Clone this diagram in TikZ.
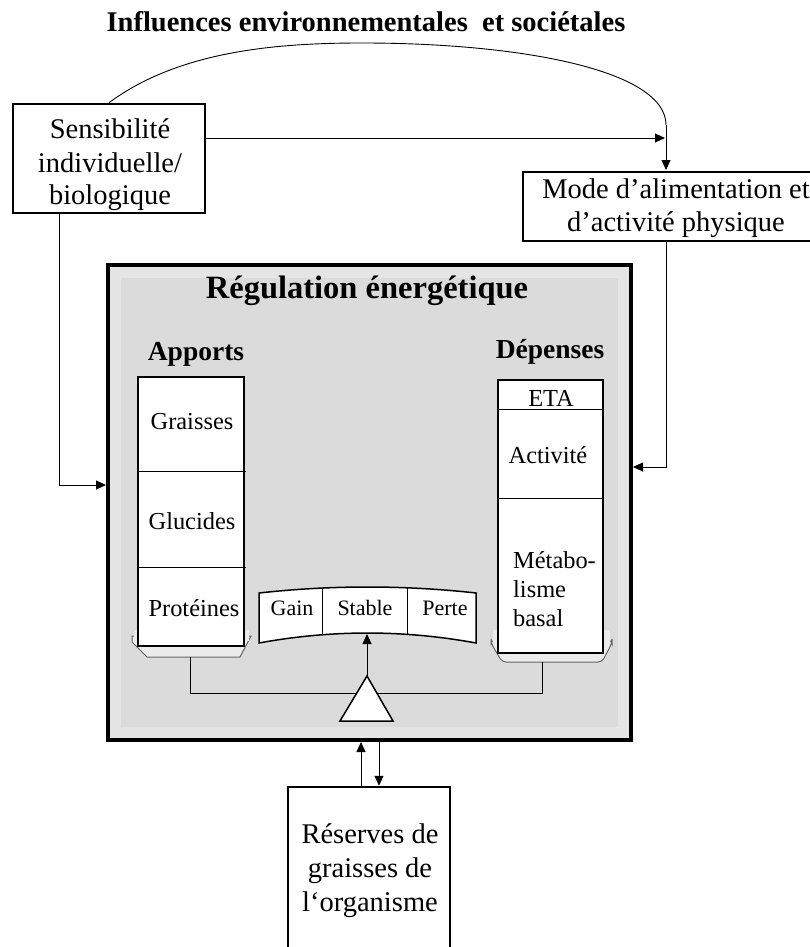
\documentclass[tikz,border=0pt]{standalone}
\usepackage{fontspec}
\setmainfont{Liberation Serif}
\usetikzlibrary{arrows.meta}
\definecolor{panelouter}{RGB}{229,229,229}
\definecolor{panelinner}{RGB}{219,219,219}
\definecolor{pangray}{RGB}{100,100,100}
\definecolor{panfill}{RGB}{236,236,236}
\tikzset{
  box/.style={draw, line width=2.5pt, fill=white, inner sep=0pt},
  col/.style={draw, line width=1.5pt, fill=white, inner sep=0pt},
  lbl/.style={inner sep=0pt, anchor=base, font=\fontsize{28.5}{33}\selectfont},
  hd/.style={inner sep=0pt, anchor=base, font=\bfseries\fontsize{27.5}{32}\selectfont},
  ctext/.style={inner sep=0pt, anchor=base, font=\fontsize{24.4}{28}\selectfont},
  stext/.style={inner sep=0pt, anchor=base, font=\fontsize{22}{26}\selectfont},
  conn/.style={line width=0.9pt},
  arr/.style={conn, -{Triangle[length=10pt,width=9pt]}},
  divider/.style={line width=1pt},
  pan/.style={draw=pangray, fill=panfill, line width=1pt},
}
\begin{document}
\begin{tikzpicture}[x=1pt,y=-1pt]
\useasboundingbox (0,0) rectangle (810,947);

% title
\node[inner sep=0pt, anchor=base, font=\bfseries\fontsize{28.5}{33}\selectfont] (title) at (366,32) {Influences environnementales\ \ et sociétales};

% outer boxes
\node[box, minimum width=192, minimum height=109] (sens) at (109,158.5) {};
\node[lbl] (sens1) at (110,139) {Sensibilité};
\node[lbl] (sens2) at (110,172) {individuelle/};
\node[lbl] (sens3) at (110,204) {biologique};

\node[box, minimum width=306, minimum height=69] (mode) at (676,206.5) {};
\node[lbl] (mode1) at (676,198) {Mode d’alimentation et};
\node[lbl] (mode2) at (676,231) {d’activité physique};

\node[box, minimum width=162, minimum height=173] (res) at (369,873.5) {};
\node[lbl] (res1) at (370,843) {Réserves de};
\node[lbl] (res2) at (370,877) {graisses de};
\node[lbl] (res3) at (370,911) {l‘organisme};

% main panel
\node[draw, line width=4pt, fill=panelouter, minimum width=523, minimum height=475, inner sep=0pt] (main) at (369.5,502.5) {};
\fill[panelinner] (121,278) rectangle (618,727);
\node[inner sep=0pt, anchor=base, font=\bfseries\fontsize{32.5}{38}\selectfont] (reg) at (367,298) {Régulation énergétique};
\node[hd] (app) at (196,360) {Apports};
\node[hd] (dep) at (550,358) {Dépenses};

% pans (drawn below the columns)
\path[pan] (132,636) -- (132,642) -- (147,657) -- (240,657) -- (251,636) -- cycle;
\path[pan, rounded corners=4pt] (491,640) -- (491,643) -- (502,662) -- (602,662) -- (612,643) -- (612,640) -- cycle;
\fill[panfill] (134,630) rectangle (249,641);
\fill[panfill] (493,630) rectangle (610,642);

% Apports column
\node[col, minimum width=106, minimum height=269] (appcol) at (191,511.5) {};
\draw[divider] (appcol.west |- 0,471) -- (246,471);
\draw[divider] (appcol.west |- 0,567) -- (246,567);
\node[ctext] (gr) at (192,429) {Graisses};
\node[ctext] (gl) at (192,529) {Glucides};
\node[ctext] (pr) at (194,616) {Protéines};

% Depenses column
\node[col, minimum width=105, minimum height=273] (depcol) at (550.5,516.5) {};
\draw[divider] (depcol.west |- 0,409) -- (depcol.east |- 0,409);
\draw[divider] (depcol.west |- 0,498) -- (depcol.east |- 0,498);
\node[ctext] (eta) at (551,406) {ETA};
\node[ctext] (act) at (548,463) {Activité};
\node[ctext, anchor=base west] (met1) at (513,568) {Métabo-};
\node[ctext, anchor=base west] (met2) at (513,597) {lisme};
\node[ctext, anchor=base west] (met3) at (513,626) {basal};

% beam
\coordinate (bl) at (190,657);
\coordinate (br) at (542,662);
\draw[conn] (bl) -- (190,693) -- (542,693) -- (br);

% balance band
\path[draw, fill=white, line width=1.5pt] (259,593) .. controls (331.3,585) and (403.7,585) .. (476,593) -- (476,643) .. controls (403.7,629.7) and (331.3,629.7) .. (259,643) -- cycle;
\begin{scope}
\clip (259,593) .. controls (331.3,585) and (403.7,585) .. (476,593) -- (476,643) .. controls (403.7,629.7) and (331.3,629.7) .. (259,643) -- cycle;
\draw[divider] (322,570) -- (322,660);
\draw[divider] (407,570) -- (407,660);
\end{scope}
\node[stext] (gain) at (292,615) {Gain};
\node[stext] (stab) at (365,615) {Stable};
\node[stext] (perte) at (445,615) {Perte};

% triangle
\draw[fill=white, line width=1.5pt] (340,721) -- (367,676) -- (393,721) -- cycle;
\coordinate (apex) at (367,676);
\coordinate (bandbot) at (367,634);
\draw[arr] (apex) -- (bandbot);

% connectors
\draw[conn] (sens.north) .. controls (180,50) and (280,43) .. (362,43) .. controls (520,43) and (666,70) .. (666,125) coordinate (arcend);
\coordinate (mtop) at (666,170);
\draw[arr] (arcend) -- (mtop);

\coordinate (h) at (665,138);
\draw[arr] (sens.east |- h) -- (h);

\coordinate (l1) at (59,485);
\draw[arr] (sens.south -| l1) -- (l1) -- (main.west |- l1);

\coordinate (r1) at (666,467);
\draw[arr] (mode.south -| r1) -- (r1) -- (main.east |- r1);

\coordinate (up) at (361,0);
\coordinate (dn) at (379,0);
\draw[arr] (res.north -| up) -- (main.south -| up);
\draw[arr] (main.south -| dn) -- (res.north -| dn);
\end{tikzpicture}
\end{document}
